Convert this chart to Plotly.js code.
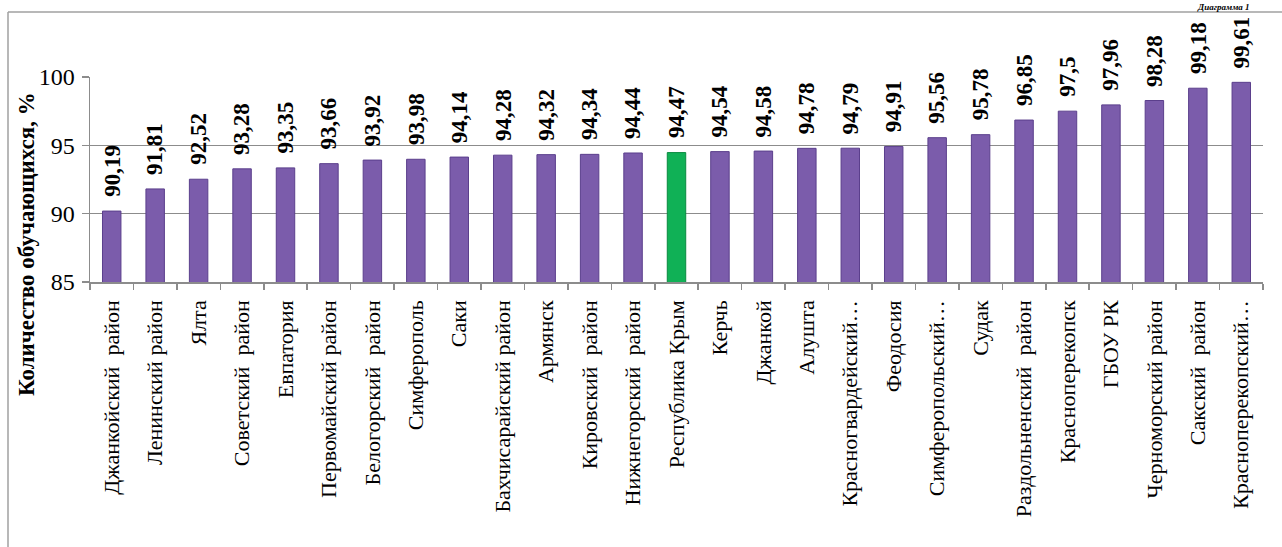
<!DOCTYPE html>
<html>
<head>
<meta charset="utf-8">
<script src="https://cdn.plot.ly/plotly-3.0.1.min.js"></script>
<style>
html,body{margin:0;padding:0;background:#fff;overflow:hidden;}
#chart{width:1282px;height:547px;}
</style>
</head>
<body>
<div id="chart"></div>
<script>
const categories = [
  "Джанкойский  район", "Ленинский район", "Ялта", "Советский  район", "Евпатория",
  "Первомайский район", "Белогорский  район", "Симферополь", "Саки", "Бахчисарайский район",
  "Армянск", "Кировский  район", "Нижнегорский  район", "Республика Крым", "Керчь",
  "Джанкой", "Алушта", "Красногвардейский…", "Феодосия", "Симферопольский…",
  "Судак", "Раздольненский  район", "Красноперекопск", "ГБОУ РК", "Черноморский район",
  "Сакский  район", "Красноперекопский…"
];
const values = [
  90.19, 91.81, 92.52, 93.28, 93.35, 93.66, 93.92, 93.98, 94.14, 94.28,
  94.32, 94.34, 94.44, 94.47, 94.54, 94.58, 94.78, 94.79, 94.91, 95.56,
  95.78, 96.85, 97.5, 97.96, 98.28, 99.18, 99.61
];
const highlightCategory = "Республика Крым";
const yTicks = [85, 90, 95, 100];
const yTitle = "Количество обучающихся, %";
const cornerTitle = "Диаграмма 1";

const purple = "#7b5cab";
const purpleEdge = "#5b3f8c";
const green = "#10b156";
const greenEdge = "#0a8a40";
const serif = "'Liberation Serif', 'Times New Roman', Times, serif";

const colors = categories.map(c => c === highlightCategory ? green : purple);
const edges = categories.map(c => c === highlightCategory ? greenEdge : purpleEdge);
const labels = values.map(v => String(v).replace(".", ","));

const trace = {
  type: "bar",
  x: categories,
  y: values,
  marker: {color: colors, line: {color: edges, width: 1}},
  hoverinfo: "x+y",
  cliponaxis: false
};

const annotations = categories.map((c, i) => ({
  x: c, y: values[i], xref: "x", yref: "y",
  text: "<b>" + labels[i] + "</b>", showarrow: false, textangle: -90,
  xanchor: "center", yanchor: "bottom", yshift: 12,
  font: {family: serif, size: 23, color: "#000"}
}));

annotations.push({
  xref: "paper", yref: "paper", x: -0.0546, y: 0.185,
  text: "<b>" + yTitle + "</b>", showarrow: false, textangle: -90,
  xanchor: "center", yanchor: "middle",
  font: {family: serif, size: 23, color: "#000"}
});

annotations.push({
  xref: "paper", yref: "paper", x: 0.99, y: 1,
  text: "<b><i>" + cornerTitle + "</i></b>", showarrow: false,
  xanchor: "right", yanchor: "bottom", yshift: 64, borderpad: 0,
  font: {family: serif, size: 9, color: "#000"}
});

const layout = {
  width: 1282, height: 547,
  margin: {l: 90, r: 19, t: 77, b: 265, pad: 0},
  paper_bgcolor: "#fff", plot_bgcolor: "#fff",
  showlegend: false,
  bargap: 0.575,
  font: {family: serif},
  xaxis: {
    type: "category",
    tickangle: -90,
    tickfont: {family: serif, size: 22, color: "#000"},
    showline: true, linecolor: "#8c8c8c", linewidth: 1.5,
    ticks: "outside", tickson: "boundaries", ticklen: 6, tickcolor: "#8c8c8c", tickwidth: 1.5,
    showgrid: false, zeroline: false, automargin: false,
    ticklabelstandoff: 8
  },
  yaxis: {
    range: [85, 100],
    tickvals: yTicks,
    tickfont: {family: serif, size: 24, color: "#000"},
    showline: true, linecolor: "#8c8c8c", linewidth: 1.5,
    ticks: "outside", ticklen: 7, tickcolor: "#8c8c8c", tickwidth: 1.5,
    showgrid: true, gridcolor: "#8c8c8c", gridwidth: 1.2,
    zeroline: false, automargin: false,
    ticklabelstandoff: 2
  },
  annotations: annotations,
  shapes: [
    {type: "line", xref: "paper", yref: "paper",
     x0: (8 - 90) / 1173, x1: 1.02, y0: (282 - 12) / 205, y1: (282 - 12) / 205,
     line: {color: "#a0a0a0", width: 1.5}},
    {type: "line", xref: "paper", yref: "paper",
     x0: (8 - 90) / 1173, x1: (8 - 90) / 1173, y0: (282 - 12) / 205, y1: -1.4,
     line: {color: "#a0a0a0", width: 1.5}}
  ]
};

Plotly.newPlot("chart", [trace], layout, {displayModeBar: false, staticPlot: true});
</script>
</body>
</html>
